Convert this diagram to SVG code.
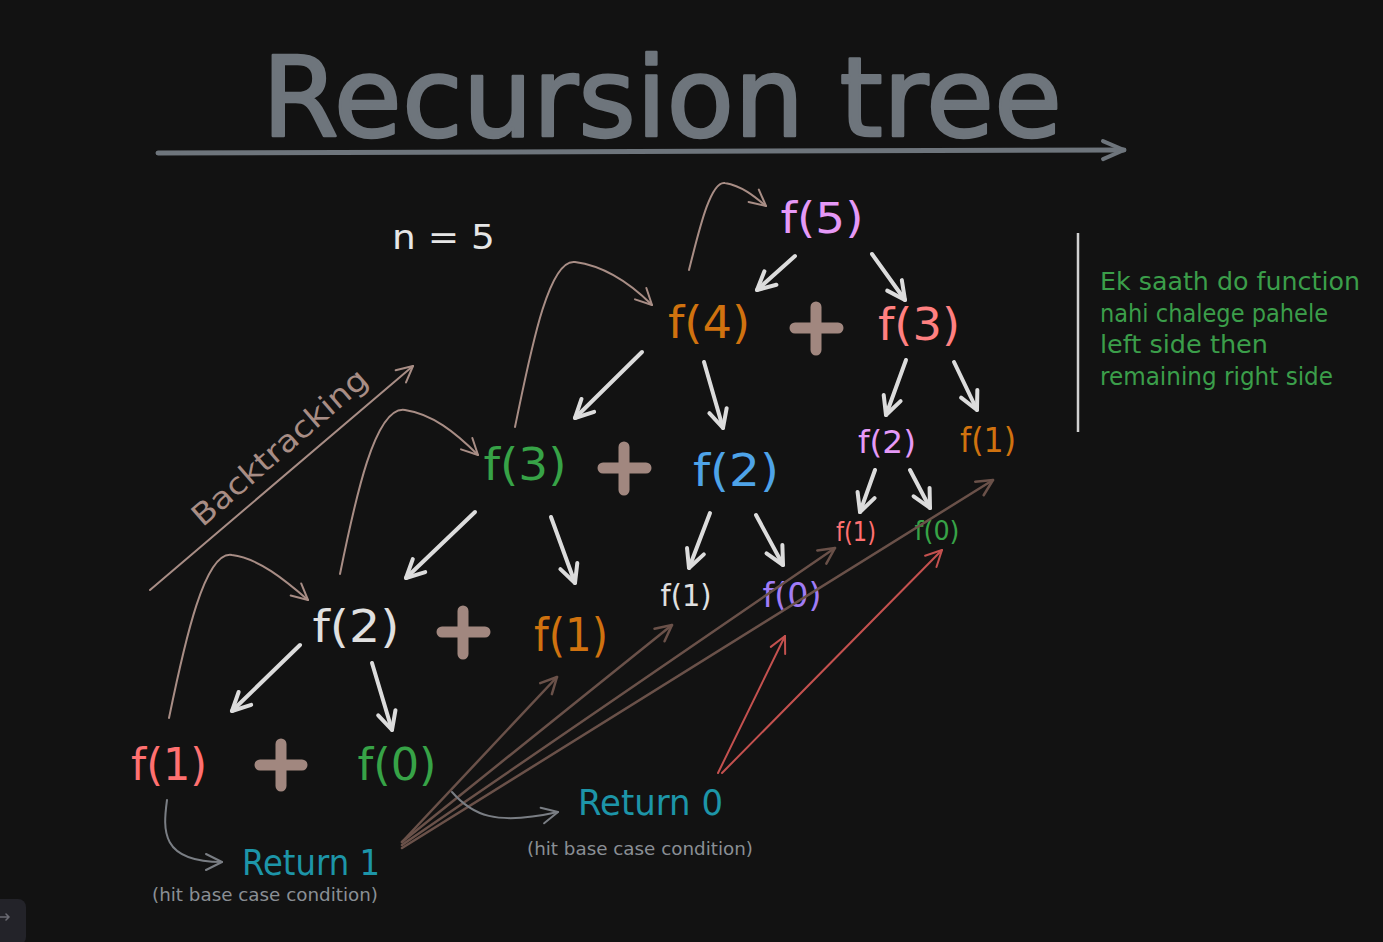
<svg xmlns="http://www.w3.org/2000/svg" width="1383" height="942" viewBox="0 0 1383 942">
<style>
.t{font-family:"DejaVu Sans","Noto Sans",sans-serif}
.fx{font-family:"DejaVu Sans","Noto Sans",sans-serif;text-anchor:middle}
.wa{fill:none;stroke:#dcdcdc;stroke-width:4;stroke-linecap:round}
.ba{fill:none;stroke:#a88d85;stroke-width:2;stroke-linecap:round}
.da{fill:none;stroke:#6a5149;stroke-width:2.5;stroke-linecap:round}
.ra{fill:none;stroke:#c4514f;stroke-width:2;stroke-linecap:round}
.ga{fill:none;stroke:#7a7e84;stroke-width:2;stroke-linecap:round}
.plus{fill:none;stroke:#a1877f;stroke-width:11;stroke-linecap:round}
</style>
<defs>
<marker id="mw" viewBox="-24 -14 28 28" refX="0" refY="0" markerWidth="28" markerHeight="28" markerUnits="userSpaceOnUse" orient="auto"><path d="M-18,-9 L0,0 L-18,9" fill="none" stroke="#dcdcdc" stroke-width="4" stroke-linecap="round" stroke-linejoin="round"/></marker>
<marker id="mb" viewBox="-20 -12 24 24" refX="0" refY="0" markerWidth="24" markerHeight="24" markerUnits="userSpaceOnUse" orient="auto"><path d="M-16,-8 L0,0 L-16,8" fill="none" stroke="#a88d85" stroke-width="2" stroke-linecap="round" stroke-linejoin="round"/></marker>
<marker id="md" viewBox="-20 -12 24 24" refX="0" refY="0" markerWidth="24" markerHeight="24" markerUnits="userSpaceOnUse" orient="auto"><path d="M-16,-8 L0,0 L-16,8" fill="none" stroke="#6a5149" stroke-width="2.5" stroke-linecap="round" stroke-linejoin="round"/></marker>
<marker id="mr" viewBox="-20 -12 24 24" refX="0" refY="0" markerWidth="24" markerHeight="24" markerUnits="userSpaceOnUse" orient="auto"><path d="M-16,-8 L0,0 L-16,8" fill="none" stroke="#c4514f" stroke-width="2" stroke-linecap="round" stroke-linejoin="round"/></marker>
<marker id="mg" viewBox="-20 -12 24 24" refX="0" refY="0" markerWidth="24" markerHeight="24" markerUnits="userSpaceOnUse" orient="auto"><path d="M-16,-8 L0,0 L-16,8" fill="none" stroke="#7a7e84" stroke-width="2" stroke-linecap="round" stroke-linejoin="round"/></marker>
<marker id="mt" viewBox="-26 -14 30 28" refX="0" refY="0" markerWidth="30" markerHeight="28" markerUnits="userSpaceOnUse" orient="auto"><path d="M-21,-9 L0,0 L-21,9" fill="none" stroke="#6e757c" stroke-width="4" stroke-linecap="round" stroke-linejoin="round"/></marker>
</defs>
<rect width="1383" height="942" fill="#121212"/>

<g id="title">
<text class="t" x="262" y="136" font-size="110" fill="#6e757c" stroke="#6e757c" stroke-width="2.5" stroke-linejoin="round" textLength="800" lengthAdjust="spacingAndGlyphs">Recursion tree</text>
<path d="M158,153 L1124,150" fill="none" stroke="#6e757c" stroke-width="5" stroke-linecap="round" marker-end="url(#mt)"/>
</g>

<g id="n5"><text class="t" x="392" y="249" font-size="34" fill="#e6e6e6" textLength="103" lengthAdjust="spacingAndGlyphs">n = 5</text></g>

<g id="note">
<line x1="1078" y1="233" x2="1078" y2="432" stroke="#d0d0d0" stroke-width="2.5"/>
<text class="t" font-size="24" fill="#3b9e4a">
<tspan x="1100" y="290" textLength="260" lengthAdjust="spacingAndGlyphs">Ek saath do function</tspan>
<tspan x="1100" y="322" textLength="228" lengthAdjust="spacingAndGlyphs">nahi chalege pahele</tspan>
<tspan x="1100" y="353" textLength="168" lengthAdjust="spacingAndGlyphs">left side then</tspan>
<tspan x="1100" y="385" textLength="233" lengthAdjust="spacingAndGlyphs">remaining right side</tspan>
</text>
</g>

<g id="backtracking">
<text class="fx" transform="translate(281,449) rotate(-41)" x="0" y="8" font-size="30" fill="#a88d85" textLength="222" lengthAdjust="spacingAndGlyphs">Backtracking</text>
</g>

<g id="f5"><text class="fx" x="822" y="233" font-size="43" fill="#e599f7" textLength="83" lengthAdjust="spacingAndGlyphs">f(5)</text></g>
<g id="f4"><text class="fx" x="709" y="338" font-size="44" fill="#d0720f" textLength="82" lengthAdjust="spacingAndGlyphs">f(4)</text></g>
<g id="plus1"><path class="plus" d="M795,328 H838 M816,307 V350"/></g>
<g id="f3r"><text class="fx" x="919" y="340" font-size="44" fill="#ff8080" textLength="82" lengthAdjust="spacingAndGlyphs">f(3)</text></g>
<g id="f2v"><text class="fx" x="887" y="453" font-size="32" fill="#e599f7" textLength="58" lengthAdjust="spacingAndGlyphs">f(2)</text></g>
<g id="f1o2"><text class="fx" x="988" y="452" font-size="34" fill="#d0720f" textLength="56" lengthAdjust="spacingAndGlyphs">f(1)</text></g>
<g id="f1r3"><text class="fx" x="856" y="541" font-size="26" fill="#ff7070" textLength="40" lengthAdjust="spacingAndGlyphs">f(1)</text></g>
<g id="f0g2"><text class="fx" x="937" y="540" font-size="27" fill="#37a347" textLength="45" lengthAdjust="spacingAndGlyphs">f(0)</text></g>
<g id="f3g"><text class="fx" x="525" y="480" font-size="44" fill="#37a347" textLength="83" lengthAdjust="spacingAndGlyphs">f(3)</text></g>
<g id="plus2"><path class="plus" d="M603,468 H646 M624,447 V490"/></g>
<g id="f2b"><text class="fx" x="736" y="486" font-size="44" fill="#4ea3e8" textLength="86" lengthAdjust="spacingAndGlyphs">f(2)</text></g>
<g id="f1w"><text class="fx" x="686" y="606" font-size="31" fill="#e0e0e0" textLength="51" lengthAdjust="spacingAndGlyphs">f(1)</text></g>
<g id="f0v"><text class="fx" x="792" y="607" font-size="33" fill="#a07cf6" textLength="59" lengthAdjust="spacingAndGlyphs">f(0)</text></g>
<g id="f2w"><text class="fx" x="356" y="642" font-size="45" fill="#e0e0e0" textLength="87" lengthAdjust="spacingAndGlyphs">f(2)</text></g>
<g id="plus3"><path class="plus" d="M442,632 H485 M463,611 V654"/></g>
<g id="f1o"><text class="fx" x="571" y="651" font-size="46" fill="#d0720f" textLength="74" lengthAdjust="spacingAndGlyphs">f(1)</text></g>
<g id="f1r"><text class="fx" x="169" y="780" font-size="45" fill="#ff7070" textLength="76" lengthAdjust="spacingAndGlyphs">f(1)</text></g>
<g id="plus4"><path class="plus" d="M260,765 H302 M281,744 V786"/></g>
<g id="f0g"><text class="fx" x="397" y="780" font-size="45" fill="#37a347" textLength="79" lengthAdjust="spacingAndGlyphs">f(0)</text></g>

<g id="ret1">
<text class="t" x="242" y="875" font-size="36" fill="#1d95a8" textLength="138" lengthAdjust="spacingAndGlyphs">Return 1</text>
<text class="t" x="152" y="901" font-size="18" fill="#8a8f95" textLength="226" lengthAdjust="spacingAndGlyphs">(hit base case condition)</text>
</g>
<g id="ret0">
<text class="t" x="578" y="815" font-size="36" fill="#1d95a8" textLength="145" lengthAdjust="spacingAndGlyphs">Return 0</text>
<text class="t" x="527" y="855" font-size="18" fill="#8a8f95" textLength="226" lengthAdjust="spacingAndGlyphs">(hit base case condition)</text>
</g>

<g id="connectors">
<path class="wa" d="M795,256 L757,290" marker-end="url(#mw)"/>
<path class="wa" d="M872,254 L905,300" marker-end="url(#mw)"/>
<path class="wa" d="M642,352 L575,418" marker-end="url(#mw)"/>
<path class="wa" d="M704,362 L723,428" marker-end="url(#mw)"/>
<path class="wa" d="M906,360 L886,415" marker-end="url(#mw)"/>
<path class="wa" d="M954,362 L977,410" marker-end="url(#mw)"/>
<path class="wa" d="M475,512 L406,578" marker-end="url(#mw)"/>
<path class="wa" d="M551,517 L575,583" marker-end="url(#mw)"/>
<path class="wa" d="M710,513 L689,568" marker-end="url(#mw)"/>
<path class="wa" d="M756,515 L783,565" marker-end="url(#mw)"/>
<path class="wa" d="M875,470 L860,512" marker-end="url(#mw)"/>
<path class="wa" d="M910,470 L930,508" marker-end="url(#mw)"/>
<path class="wa" d="M300,645 L232,711" marker-end="url(#mw)"/>
<path class="wa" d="M372,663 L392,730" marker-end="url(#mw)"/>

<path class="ba" d="M150,590 L413,366" marker-end="url(#mb)"/>
<path class="ba" d="M169,718 C185,640 205,550 232,555 C258,558 285,580 308,600" marker-end="url(#mb)"/>
<path class="ba" d="M340,574 C355,500 375,405 405,410 C432,414 455,432 478,455" marker-end="url(#mb)"/>
<path class="ba" d="M515,427 C530,355 548,258 575,262 C605,266 630,283 652,305" marker-end="url(#mb)"/>
<path class="ba" d="M689,270 C698,235 710,180 725,183 C742,186 754,196 766,206" marker-end="url(#mb)"/>

<path class="da" d="M402,842 L557,677" marker-end="url(#md)"/>
<path class="da" d="M402,842 L672,625" marker-end="url(#md)"/>
<path class="da" d="M402,845 L835,548" marker-end="url(#md)"/>
<path class="da" d="M402,848 L993,480" marker-end="url(#md)"/>

<path class="ra" d="M718,773 L785,636" marker-end="url(#mr)"/>
<path class="ra" d="M722,773 L942,550" marker-end="url(#mr)"/>

<path class="ga" d="M167,800 C163,830 160,862 222,862" marker-end="url(#mg)"/>
<path class="ga" d="M452,792 C472,815 495,826 558,812" marker-end="url(#mg)"/>
</g>

<g id="corner">
<rect x="-12" y="899" width="38" height="46" rx="8" fill="#232329"/>
<path d="M-1,917 H9 M6,914 L9,917 L6,920" fill="none" stroke="#6b6b73" stroke-width="1.5" stroke-linecap="round"/>
</g>
</svg>
